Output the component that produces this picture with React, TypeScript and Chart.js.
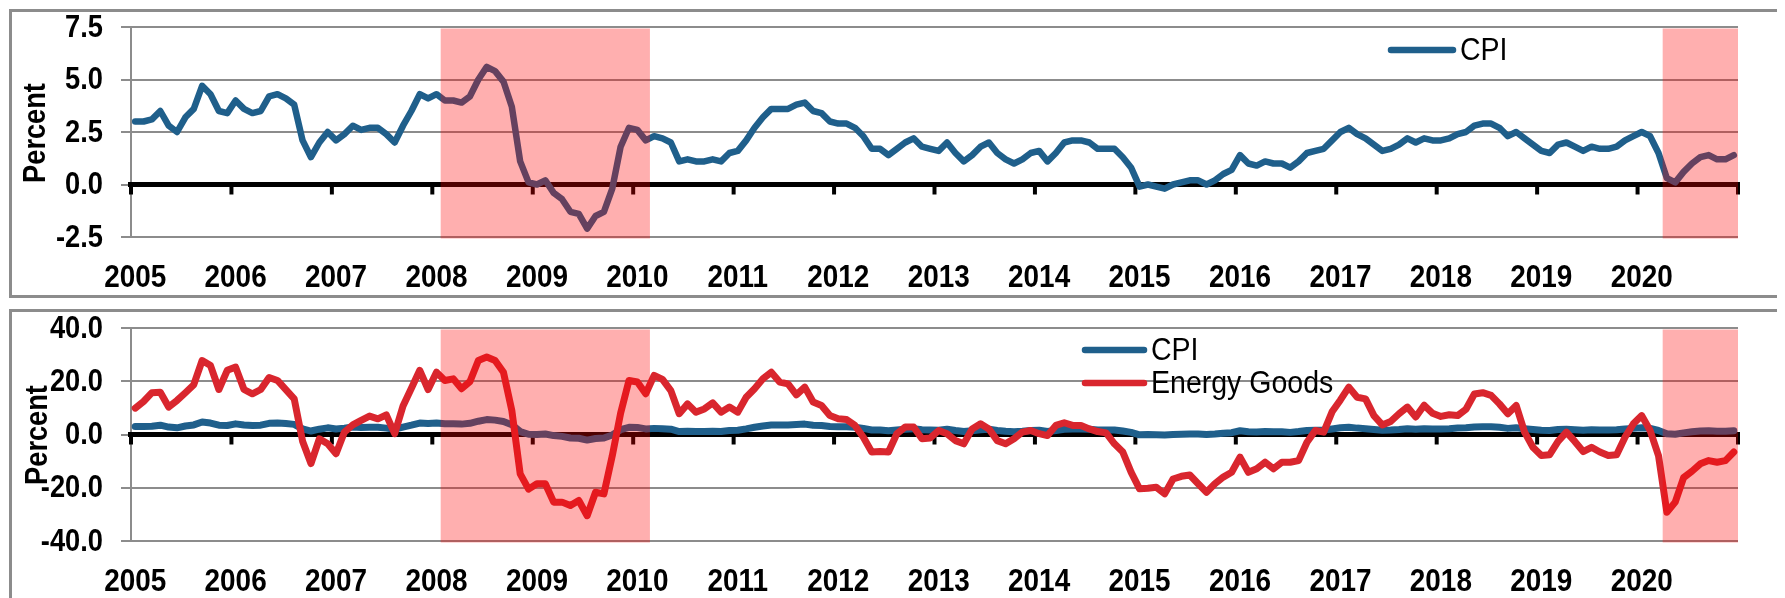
import React, { useEffect, useRef } from "react";
import { Chart, registerables } from "chart.js";

Chart.register(...registerables);

// ---------- DATA ----------
const years = [2005, 2006, 2007, 2008, 2009, 2010, 2011, 2012, 2013, 2014, 2015, 2016, 2017, 2018, 2019, 2020];
const monthCodes = ["01", "02", "03", "04", "05", "06", "07", "08", "09", "10", "11", "12"];
const monthLabels = years.flatMap((y) => monthCodes.map((m) => `${y}-${m}`));

// CPI, percent y/y (monthly, Jan 2005 - Dec 2020)
const cpi = [
  3.0, 3.0, 3.1, 3.5, 2.8, 2.5, 3.2, 3.6, 4.7, 4.3, 3.5, 3.4,
  4.0, 3.6, 3.4, 3.5, 4.2, 4.3, 4.1, 3.8, 2.1, 1.3, 2.0, 2.5,
  2.1, 2.4, 2.8, 2.6, 2.7, 2.7, 2.4, 2.0, 2.8, 3.5, 4.3, 4.1,
  4.3, 4.0, 4.0, 3.9, 4.2, 5.0, 5.6, 5.4, 4.9, 3.7, 1.1, 0.1,
  0.0, 0.2, -0.4, -0.7, -1.3, -1.4, -2.1, -1.5, -1.3, -0.2, 1.8, 2.7,
  2.6, 2.1, 2.3, 2.2, 2.0, 1.1, 1.2, 1.1, 1.1, 1.2, 1.1, 1.5,
  1.6, 2.1, 2.7, 3.2, 3.6, 3.6, 3.6, 3.8, 3.9, 3.5, 3.4, 3.0,
  2.9, 2.9, 2.7, 2.3, 1.7, 1.7, 1.4, 1.7, 2.0, 2.2, 1.8, 1.7,
  1.6, 2.0, 1.5, 1.1, 1.4, 1.8, 2.0, 1.5, 1.2, 1.0, 1.2, 1.5,
  1.6, 1.1, 1.5, 2.0, 2.1, 2.1, 2.0, 1.7, 1.7, 1.7, 1.3, 0.8,
  -0.1, 0.0, -0.1, -0.2, 0.0, 0.1, 0.2, 0.2, 0.0, 0.2, 0.5, 0.7,
  1.4, 1.0, 0.9, 1.1, 1.0, 1.0, 0.8, 1.1, 1.5, 1.6, 1.7, 2.1,
  2.5, 2.7, 2.4, 2.2, 1.9, 1.6, 1.7, 1.9, 2.2, 2.0, 2.2, 2.1,
  2.1, 2.2, 2.4, 2.5, 2.8, 2.9, 2.9, 2.7, 2.3, 2.5, 2.2, 1.9,
  1.6, 1.5, 1.9, 2.0, 1.8, 1.6, 1.8, 1.7, 1.7, 1.8, 2.1, 2.3,
  2.5, 2.3, 1.5, 0.3, 0.1, 0.6, 1.0, 1.3, 1.4, 1.2, 1.2, 1.4,
];

// Energy goods, percent y/y
const energyGoods = [
  9.9, 12.4, 15.7, 15.9, 10.3, 12.8, 15.7, 18.7, 27.8, 25.9, 16.9, 24.1,
  25.3, 16.9, 15.3, 16.9, 21.4, 20.3, 16.9, 13.4, -2.5, -10.9, -1.6, -3.5,
  -7.2, 0.9, 3.6, 5.3, 6.9, 5.9, 7.4, 0.3, 10.7, 17.4, 24.1, 16.9,
  23.4, 20.3, 20.9, 17.2, 19.9, 27.8, 29.1, 27.8, 23.4, 9.0, -14.8, -20.5,
  -18.5, -18.5, -25.4, -25.4, -26.7, -24.8, -30.5, -21.7, -22.3, -8.0, 8.0, 20.3,
  19.7, 15.3, 22.2, 20.7, 16.5, 7.8, 11.5, 8.4, 9.6, 11.9, 8.4, 10.3,
  8.4, 14.0, 17.2, 20.9, 23.4, 19.7, 19.0, 14.9, 17.8, 12.2, 10.9, 7.1,
  5.9, 5.6, 3.4, -1.0, -6.6, -6.4, -6.6, 0.3, 2.8, 2.8, -1.6, -1.3,
  1.5, 0.3, -2.3, -3.5, 2.1, 4.0, 2.1, -2.3, -3.5, -1.6, 0.9, 1.5,
  0.3, -0.4, 3.4, 4.4, 3.4, 3.4, 2.1, 1.1, 0.6, -3.5, -6.6, -14.2,
  -20.4, -20.2, -19.8, -22.3, -16.7, -15.7, -15.2, -18.5, -21.7, -18.5, -16.0, -14.2,
  -8.5, -14.2, -12.9, -10.4, -12.9, -10.4, -10.4, -9.8, -2.9, 1.5, 0.9, 8.5,
  13.0, 17.8, 14.0, 13.4, 7.1, 3.6, 4.9, 7.8, 10.3, 6.6, 11.0, 8.0,
  6.8, 7.4, 7.1, 9.5, 15.2, 15.7, 14.7, 11.5, 7.8, 10.9, 0.9, -4.8,
  -7.9, -7.6, -2.6, 0.9, -2.6, -6.4, -4.8, -6.6, -7.9, -7.6, -1.0, 4.0,
  7.1, 1.5, -7.9, -29.2, -25.4, -16.2, -13.8, -11.0, -9.8, -10.4, -9.8, -6.6,
];

const cpiAxisTicks = [-2.5, 0, 2.5, 5, 7.5];
const energyAxisTicks = [-40, -20, 0, 20, 40];

// Recession shading periods (first and last month shaded)
const recessionStart = ["2008-02", "2020-04"];
const recessionEnd = ["2010-02", "2020-12"];

// ---------- STYLE ----------
const FONT = '"Liberation Sans", Arial, sans-serif';
const BLUE = "#1f5f8b";
const RED = "#d9262e";
const GRID = "#8c8c8c";
const SHADE = "rgba(255, 0, 0, 0.314)";
const NARROW = 0.88;

function drawText(
  ctx: CanvasRenderingContext2D,
  text: string,
  x: number,
  y: number,
  font: string,
  align: CanvasTextAlign,
  baseline: CanvasTextBaseline,
  sx: number,
  rotate = 0
) {
  ctx.save();
  ctx.translate(x, y);
  if (rotate) ctx.rotate(rotate);
  ctx.scale(sx, 1);
  ctx.font = font;
  ctx.textAlign = align;
  ctx.textBaseline = baseline;
  ctx.fillStyle = "#000";
  ctx.fillText(text, 0, 0);
  ctx.restore();
}

type Series = { label: string; data: number[]; color: string; width: number; order: number };

type PanelProps = {
  series: Series[];
  axisTicks: number[];
  top: number;
  height: number;
  canvasH: number;
  padTop: number;
  padBottom: number;
  legendX: number;
  legendY: number;
  legendGap: number;
  legendLen: number;
  titleX: number;
  titleY: number;
  yearBaseline: number;
};

function Panel(p: PanelProps) {
  const ref = useRef<HTMLCanvasElement | null>(null);

  useEffect(() => {
    const canvas = ref.current;
    if (!canvas) return;
    const W = 1769;
    canvas.width = W;
    canvas.height = p.canvasH;

    const decor = {
      id: "decor",
      beforeDatasetsDraw(chart: any) {
        const { ctx, chartArea: a, scales } = chart;
        const xs = scales.x;
        const ys = scales.y;
        const bin = (a.right - a.left) / monthLabels.length;
        const y0 = ys.getPixelForValue(0);
        ctx.save();
        ctx.strokeStyle = "#000";
        ctx.lineCap = "butt";
        ctx.lineWidth = 5;
        ctx.beginPath();
        ctx.moveTo(a.left - 3, y0);
        ctx.lineTo(a.right + 2, y0);
        ctx.stroke();
        ctx.lineWidth = 4;
        for (let k = 0; k <= years.length; k++) {
          let x = xs.getPixelForValue(k * 12) - bin / 2;
          x = Math.min(Math.max(x, a.left), a.right);
          ctx.beginPath();
          ctx.moveTo(x, y0);
          ctx.lineTo(x, y0 + 10);
          ctx.stroke();
        }
        ctx.restore();
      },
      afterDatasetsDraw(chart: any) {
        const { ctx, chartArea: a, scales } = chart;
        const xs = scales.x;
        const bin = (a.right - a.left) / monthLabels.length;
        ctx.save();
        ctx.fillStyle = SHADE;
        for (let r = 0; r < recessionStart.length; r++) {
          const i0 = monthLabels.indexOf(recessionStart[r]);
          const i1 = monthLabels.indexOf(recessionEnd[r]);
          const x0 = xs.getPixelForValue(i0) - bin / 2;
          const x1 = Math.min(xs.getPixelForValue(i1) + bin / 2, a.right);
          ctx.fillRect(x0, a.top + 1.5, x1 - x0, a.bottom - a.top);
        }
        ctx.restore();
      },
      afterDraw(chart: any) {
        const { ctx, scales } = chart;
        const xs = scales.x;
        const ys = scales.y;
        // y tick labels
        p.axisTicks.forEach((v) => {
          drawText(ctx, v.toFixed(1), 91, ys.getPixelForValue(v) + 1, `bold 31px ${FONT}`, "right", "middle", NARROW);
        });
        // year labels
        years.forEach((y) => {
          const idx = monthLabels.indexOf(`${y}-01`);
          drawText(ctx, String(y), xs.getPixelForValue(idx), p.yearBaseline, `bold 31px ${FONT}`, "center", "alphabetic", NARROW + 0.02);
        });
        // y title
        drawText(ctx, "Percent", p.titleX, p.titleY, `bold 32px ${FONT}`, "center", "middle", 0.85, -Math.PI / 2);
        // legend
        ctx.save();
        p.series
          .slice()
          .sort((s1, s2) => s2.order - s1.order)
          .forEach((s, k) => {
            const ly = p.legendY + k * p.legendGap;
            ctx.strokeStyle = s.color;
            ctx.lineWidth = 6.5;
            ctx.lineCap = "round";
            ctx.beginPath();
            ctx.moveTo(p.legendX, ly);
            ctx.lineTo(p.legendX + p.legendLen, ly);
            ctx.stroke();
            drawText(ctx, s.label, p.legendX + p.legendLen + 7, ly + 1, `31px ${FONT}`, "left", "middle", 0.92);
          });
        ctx.restore();
      },
    };

    const chart = new Chart(canvas, {
      type: "line",
      data: {
        labels: monthLabels,
        datasets: p.series.map((s) => ({
          label: s.label,
          data: s.data,
          borderColor: s.color,
          backgroundColor: s.color,
          borderWidth: s.width,
          order: s.order,
          pointRadius: 0,
          tension: 0,
          fill: false,
          borderJoinStyle: "round" as const,
          borderCapStyle: "round" as const,
        })),
      },
      options: {
        responsive: false,
        animation: false,
        devicePixelRatio: 1,
        events: [],
        layout: { padding: { left: 0, right: 43, top: p.padTop, bottom: p.padBottom } },
        plugins: { legend: { display: false }, tooltip: { enabled: false }, title: { display: false } },
        scales: {
          x: { type: "category", display: false, offset: true },
          y: {
            min: p.axisTicks[0],
            max: p.axisTicks[p.axisTicks.length - 1],
            afterBuildTicks: (s: any) => {
              s.ticks = p.axisTicks.map((v) => ({ value: v }));
            },
            afterFit: (s: any) => {
              s.width = 119;
            },
            grid: { color: GRID, lineWidth: 2, drawTicks: true, tickLength: 10, tickColor: GRID },
            border: { display: true, color: GRID, width: 2 },
            ticks: { display: false, autoSkip: false },
          },
        },
      },
      plugins: [decor],
    } as any);

    return () => chart.destroy();
  }, []);

  return (
    <div
      style={{
        position: "absolute",
        left: 1,
        top: p.top,
        width: 1775,
        height: p.height,
        border: `3px solid ${GRID}`,
        boxSizing: "border-box",
        background: "#fff",
      }}
    >
      <canvas ref={ref} style={{ display: "block", width: 1769, height: p.canvasH }} />
    </div>
  );
}

export default function App() {
  useEffect(() => {
    document.documentElement.style.overflow = "hidden";
    document.body.style.overflow = "hidden";
  }, []);

  return (
    <div style={{ position: "relative", width: 1777, height: 590, overflow: "hidden", background: "#fff" }}>
      <Panel
        series={[{ label: "CPI", data: cpi, color: BLUE, width: 6.5, order: 1 }]}
        axisTicks={cpiAxisTicks}
        top={1}
        height={289}
        canvasH={283}
        padTop={15}
        padBottom={58}
        legendX={1379}
        legendY={38}
        legendGap={0}
        legendLen={62}
        titleX={24}
        titleY={121}
        yearBaseline={275}
      />
      <Panel
        series={[
          { label: "CPI", data: cpi, color: BLUE, width: 7, order: 2 },
          { label: "Energy Goods", data: energyGoods, color: RED, width: 7, order: 1 },
        ]}
        axisTicks={energyAxisTicks}
        top={301}
        height={300}
        canvasH={294}
        padTop={16}
        padBottom={65}
        legendX={1073}
        legendY={38}
        legendGap={33}
        legendLen={59}
        titleX={26}
        titleY={123}
        yearBaseline={279}
      />
    </div>
  );
}
